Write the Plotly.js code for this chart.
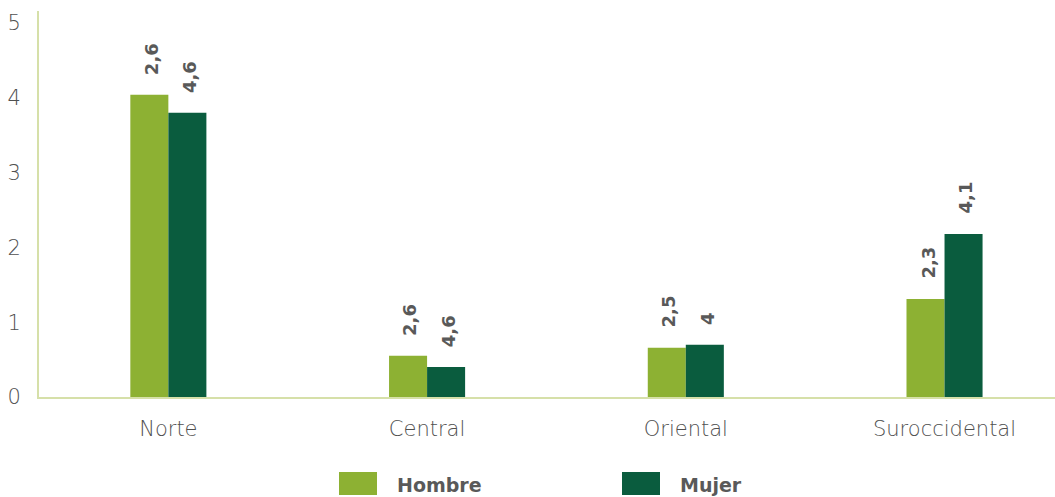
<!DOCTYPE html>
<html>
<head>
<meta charset="utf-8">
<script src="https://cdn.plot.ly/plotly-3.0.1.min.js"></script>
<style>html,body{margin:0;padding:0;background:#fff;}#chart{width:1055px;height:497px;}</style>
</head>
<body>
<div id="chart"></div>
<script>
const categories = ["Norte", "Central", "Oriental", "Suroccidental"];
const seriesNames = ["Hombre", "Mujer"];
const hombreValues = [4.04, 0.55, 0.66, 1.31];
const mujerValues = [3.80, 0.40, 0.70, 2.18];
const hombreLabels = ["2,6", "2,6", "2,5", "2,3"];
const mujerLabels = ["4,6", "4,6", "4", "4,1"];
const yTicks = [0, 1, 2, 3, 4, 5];

const colors = ["#8db133", "#0a5c3e"];
const labelFont = {family: "DejaVu Sans", size: 18, color: "#595959", weight: "bold"};
const tickFont = {family: "DejaVu Sans", size: 21, color: "#505050", weight: 200};

const traces = [
  {type: "bar", name: seriesNames[0], x: categories, y: hombreValues, marker: {color: colors[0]}, showlegend: false, hoverinfo: "x+y"},
  {type: "bar", name: seriesNames[1], x: categories, y: mujerValues, marker: {color: colors[1]}, showlegend: false, hoverinfo: "x+y"}
];

const annotations = [];
categories.forEach((c, i) => {
  annotations.push({x: c, y: hombreValues[i], xref: "x", yref: "y", text: hombreLabels[i], textangle: -90,
    showarrow: false, xanchor: "center", yanchor: "bottom", xshift: -17, yshift: 18, font: labelFont});
  annotations.push({x: c, y: mujerValues[i], xref: "x", yref: "y", text: mujerLabels[i], textangle: -90,
    showarrow: false, xanchor: "center", yanchor: "bottom", xshift: 21, yshift: 18, font: labelFont});
});

// custom legend
const legendX = [339, 622];
const shapes = [];
seriesNames.forEach((n, i) => {
  shapes.push({type: "rect", xref: "paper", yref: "paper",
    x0: (legendX[i] - 39) / 1016, x1: (legendX[i] + 38 - 39) / 1016,
    y0: -(472 - 397) / 386, y1: -(495 - 397) / 386,
    fillcolor: colors[i], line: {width: 0}});
  annotations.push({xref: "paper", yref: "paper", x: (legendX[i] + 56 - 39) / 1016, y: -(485 - 397) / 386,
    xanchor: "left", yanchor: "middle", text: n, showarrow: false,
    font: {family: "DejaVu Sans", size: 19, color: "#595959", weight: "bold"}});
});

const layout = {
  width: 1055, height: 497,
  margin: {l: 39, r: 0, t: 11, b: 100},
  paper_bgcolor: "#ffffff", plot_bgcolor: "#ffffff",
  barmode: "group", bargap: 0.706, bargroupgap: 0,
  font: {family: "DejaVu Sans", color: "#595959"},
  xaxis: {
    type: "category", range: [-0.5, 3.427],
    showline: true, linecolor: "#d6e0a9", linewidth: 2,
    showgrid: false, zeroline: false, ticks: "",
    tickfont: tickFont,
    ticklabelstandoff: 12
  },
  yaxis: {
    range: [0, 5.16], tickvals: yTicks, ticktext: yTicks.map(String),
    showline: true, linecolor: "#d6e0a9", linewidth: 2,
    showgrid: false, zeroline: false, ticks: "",
    tickfont: tickFont,
    ticklabelstandoff: 12
  },
  annotations: annotations,
  shapes: shapes
};

Plotly.newPlot("chart", traces, layout, {displayModeBar: false, staticPlot: true});
</script>
</body>
</html>
